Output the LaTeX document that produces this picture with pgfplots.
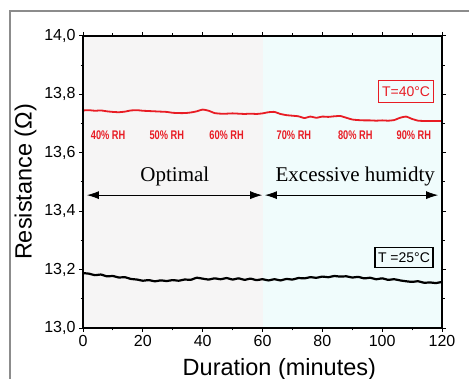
\documentclass[border=0pt]{standalone}
\usepackage{pgfplots}
\pgfplotsset{compat=1.18}
\usetikzlibrary{arrows.meta}
\usepackage{fontspec}
\setmainfont{Liberation Sans}
\newfontfamily\serifx{Liberation Serif}
\newfontfamily\narrowbold[FakeStretch=0.74]{Liberation Sans Bold}
\definecolor{myred}{RGB}{232,28,36}
\definecolor{leftbg}{RGB}{246,245,245}
\definecolor{rightbg}{RGB}{240,252,252}
\definecolor{framegray}{RGB}{140,140,140}
\pgfplotstableread{
x y
0 13.188
2 13.186
4 13.181
6 13.183
8 13.177
10 13.178
12 13.173
14 13.174
16 13.168
18 13.166
20 13.162
22 13.164
24 13.160
26 13.163
28 13.161
30 13.164
32 13.162
34 13.166
36 13.165
38 13.172
40 13.169
42 13.166
44 13.170
46 13.167
48 13.171
50 13.166
52 13.170
54 13.165
56 13.169
58 13.164
60 13.167
62 13.163
64 13.167
66 13.163
68 13.168
70 13.166
72 13.171
74 13.170
76 13.174
78 13.172
80 13.176
82 13.174
84 13.178
86 13.176
88 13.177
90 13.173
92 13.175
94 13.170
96 13.172
98 13.167
100 13.170
102 13.165
104 13.167
106 13.163
108 13.160
110 13.158
112 13.160
114 13.155
116 13.156
118 13.154
120 13.158
}\blackdata
\pgfplotstableread{
x y
0 13.745
2 13.746
4 13.744
6 13.745
8 13.742
10 13.740
12 13.739
14 13.741
16 13.745
18 13.746
20 13.744
22 13.743
24 13.742
26 13.741
28 13.740
30 13.737
32 13.736
34 13.736
36 13.738
38 13.742
40 13.748
42 13.744
44 13.736
46 13.734
48 13.734
50 13.735
52 13.734
54 13.733
56 13.734
58 13.733
60 13.735
62 13.739
64 13.740
66 13.733
68 13.729
70 13.727
72 13.725
74 13.719
76 13.724
78 13.720
80 13.724
82 13.723
84 13.725
86 13.726
88 13.720
90 13.714
92 13.712
94 13.711
96 13.711
98 13.710
100 13.711
102 13.710
104 13.712
106 13.720
108 13.724
110 13.716
112 13.710
114 13.709
116 13.709
118 13.709
120 13.709
}\reddata
\tikzset{rhlab/.style={anchor=base, text=myred, font=\narrowbold\fontsize{12.5bp}{14bp}\selectfont}}
\begin{document}
\begin{tikzpicture}
\draw[framegray, line width=1.5bp] (10bp,-20bp) -- (10bp,368bp) -- (490bp,368bp);
\begin{axis}[
  at={(83bp,51bp)}, anchor=south west,
  scale only axis, width=359bp, height=292bp,
  xmin=0, xmax=120, ymin=13.0, ymax=14.0,
  xtick={0,20,...,120}, ytick={13.0,13.2,...,14.01},
  minor x tick num=1, minor y tick num=1,
  tick align=outside,
  major tick length=4bp, minor tick length=2.5bp,
  axis line style={line width=1.2bp},
  every tick/.style={black, line width=1bp},
  axis on top,
  /pgf/number format/assume math mode=true,
  yticklabel style={/pgf/number format/.cd, use comma, fixed, fixed zerofill, precision=1},
  ticklabel style={font=\fontsize{16bp}{18bp}\selectfont},
  xlabel={Duration (minutes)},
  ylabel={Resistance (Ω)},
  label style={font=\fontsize{23.5bp}{26bp}\selectfont},
  xlabel style={at={(axis description cs:0.547,-0.161)}, anchor=base},
  ylabel style={at={(axis description cs:-0.16,0.5)}, anchor=center},
  clip=false,
]
\fill[leftbg] (axis cs:0,13.0) rectangle (axis cs:60,14.0);
\fill[rightbg] (axis cs:60,13.0) rectangle (axis cs:120,14.0);
\addplot[myred, line width=1.8bp, smooth, tension=0.3] table[x=x,y=y] {\reddata};
\addplot[black, line width=2.2bp, smooth, tension=0.3] table[x=x,y=y] {\blackdata};
\draw[black, line width=0.8bp, {Latex[length=12bp,width=8bp]}-{Latex[length=12bp,width=8bp]}] (axis cs:1.3,13.455) -- (axis cs:59.9,13.455);
\draw[black, line width=0.8bp, {Latex[length=12bp,width=8bp]}-{Latex[length=12bp,width=8bp]}] (axis cs:60.8,13.455) -- (axis cs:118.7,13.455);
\node[anchor=base, font=\serifx\fontsize{21bp}{23bp}\selectfont] at (axis cs:30.7,13.5) {Optimal};
\node[anchor=base, font=\serifx\fontsize{21bp}{23bp}\selectfont] at (axis cs:91,13.5) {Excessive humidty};
\node[rhlab] at (axis cs:8.4,13.644) {40\% RH};
\node[rhlab] at (axis cs:28,13.644) {50\% RH};
\node[rhlab] at (axis cs:48,13.644) {60\% RH};
\node[rhlab] at (axis cs:70.5,13.644) {70\% RH};
\node[rhlab] at (axis cs:91,13.644) {80\% RH};
\node[rhlab] at (axis cs:110.6,13.644) {90\% RH};
\node[draw=myred, line width=1bp, text=myred, font=\fontsize{14bp}{16bp}\selectfont, inner xsep=3.5bp, text height=10bp, text depth=0bp, inner ysep=6bp, fill=rightbg] at (axis cs:108,13.81) {T=40°C};
\node[draw=black, line width=1.2bp, text=black, font=\fontsize{14bp}{16bp}\selectfont, inner xsep=3bp, text height=10bp, text depth=0bp, inner ysep=5bp, fill=rightbg] at (axis cs:107.3,13.241) {T =25°C};
\end{axis}
\pgfresetboundingbox
\path[use as bounding box] (0,0) rectangle (469bp,379bp);
\end{tikzpicture}
\end{document}
